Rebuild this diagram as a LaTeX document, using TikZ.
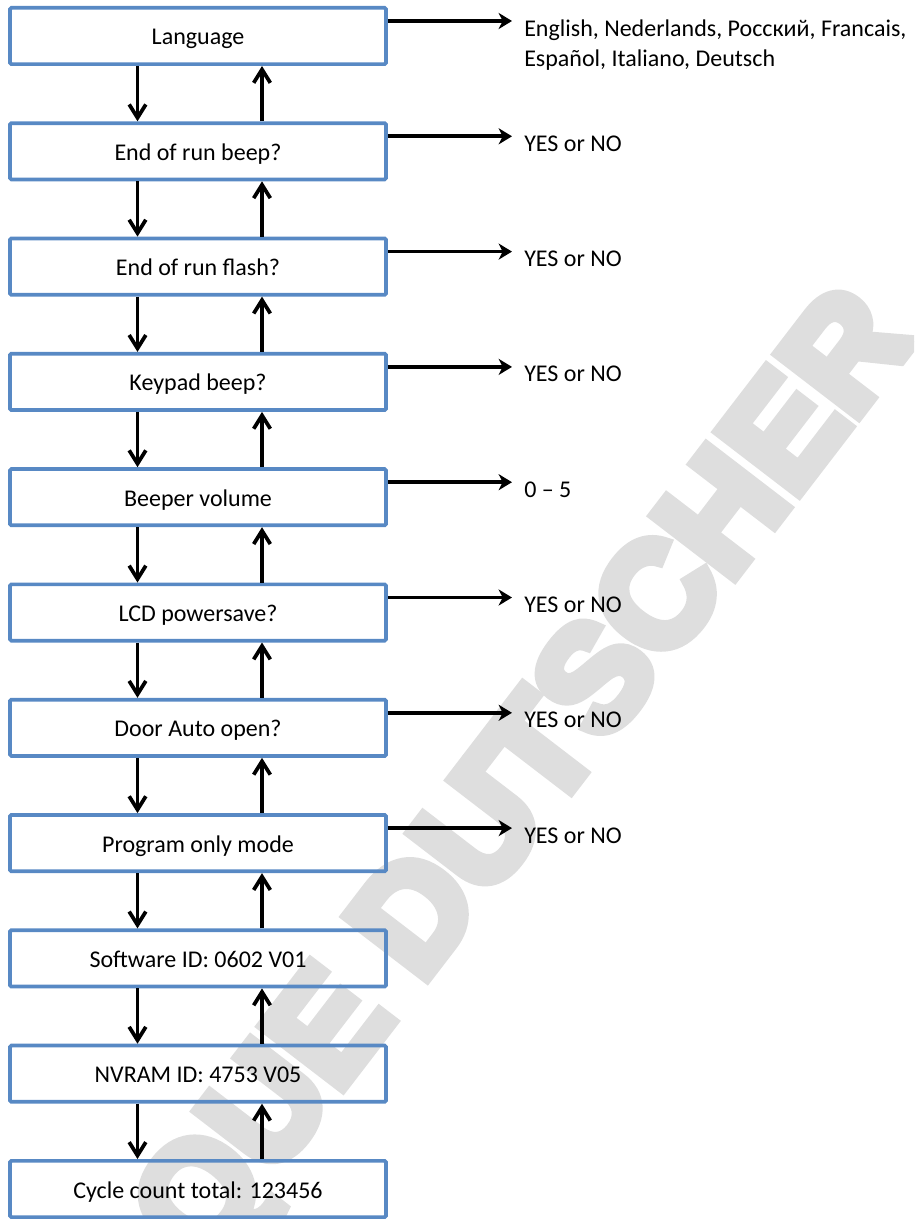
\documentclass[tikz,border=0pt]{standalone}
\usepackage{fontspec}
\setmainfont{Carlito}
\newfontfamily\wmfont{Liberation Sans}[BoldFeatures={FakeBold=8}]
\usetikzlibrary{arrows.meta}

\definecolor{boxblue}{RGB}{88,137,196}
\definecolor{wmgray}{RGB}{222,222,222}

\begin{document}
\begin{tikzpicture}[x=0.75pt,y=-0.75pt,
  stepbox/.style={draw=boxblue, line width=2.8pt, rounded corners=1pt,
    minimum width=282pt, minimum height=42.2pt, inner sep=0pt,
    font=\fontsize{18}{22}\selectfont, text height=14pt, text depth=0.5pt},
  varrow/.style={line width=2.8pt, -{Straight Barb[length=10pt,width=12.5pt]}},
  harrow/.style={line width=2.8pt, -{Stealth[length=10pt,width=12pt,inset=3pt]}},
  choice/.style={anchor=base west, inner sep=0pt, font=\fontsize{18}{22}\selectfont},
]
\useasboundingbox (0,0) rectangle (914,1219);

% background watermark
\begin{scope}
  \clip (0,0) rectangle (914,1219);
  \node[rotate=52.5, text=wmgray, inner sep=0pt, text height=79pt, text depth=0pt,
        font=\wmfont\bfseries\fontsize{110}{110}\selectfont] (wm) at (518,772) {QUE DUTSCHER};
\end{scope}

% menu steps
\foreach \t [count=\i from 0] in {Language, End of run beep?, End of run flash?, Keypad beep?,
    Beeper volume, LCD powersave?, Door Auto open?, Program only mode,
    Software ID: 0602 V01, NVRAM ID: 4753 V05, Cycle count total: 123456}
  \node[stepbox] (b\i) at (198,{36+115.3*\i}) {\t};

% columns of the down and up connectors
\coordinate (dn) at (137.5,0);
\coordinate (up) at (262,0);

\foreach \i in {0,...,9} {
  \pgfmathtruncatemacro\j{\i+1}
  \draw[varrow] (b\i.south -| dn) -- (b\j.north -| dn);
  \draw[varrow] (b\j.north -| up) -- (b\i.south -| up);
}

% choice arrows
\foreach \i in {0,...,7} {
  \coordinate (t\i) at (512,{36+115.3*\i-15});
  \draw[harrow] (b\i.east |- t\i) -- (t\i);
}

% choices
\node[choice] (c0) at (524,37) {English, Nederlands, Росский, Francais,};
\node[choice] (c0b) at (524,67) {Español, Italiano, Deutsch};
\foreach \i in {1,2,3,5,6,7}
  \node[choice] (c\i) at (524,{36+115.3*\i}) {YES or NO};
\node[choice] (c4) at (524,{36+115.3*4}) {0 – 5};
\end{tikzpicture}
\end{document}
